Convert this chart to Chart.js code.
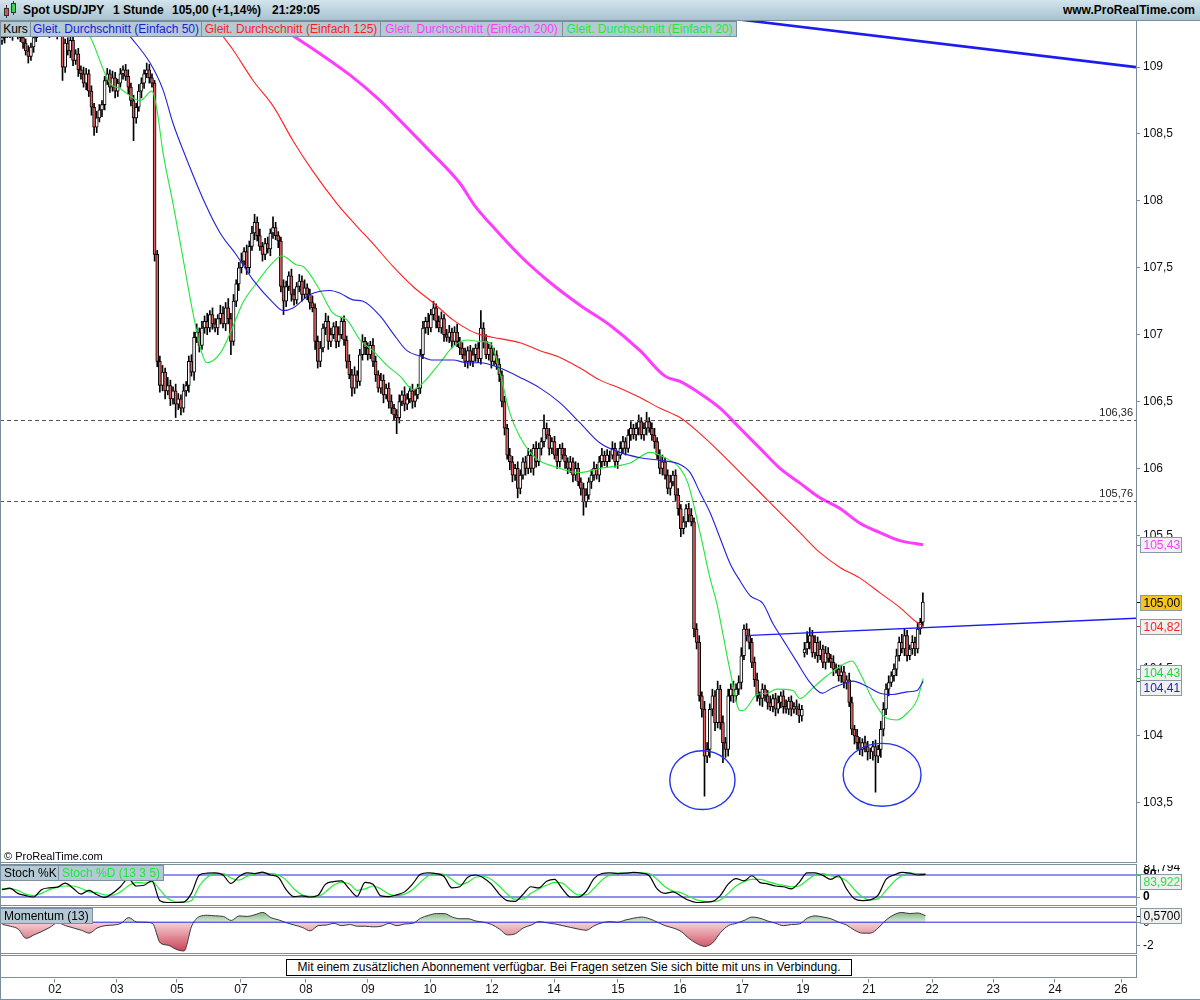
<!DOCTYPE html>
<html lang="de">
<head>
<meta charset="utf-8">
<title>Spot USD/JPY 1 Stunde</title>
<script src="https://cdn.jsdelivr.net/npm/chart.js@4.4.1/dist/chart.umd.min.js"></script>
<style>
  html, body { margin: 0; padding: 0; background: #fff; }
  body { width: 1200px; height: 1000px; position: relative; overflow: hidden;
         font-family: "Liberation Sans", Arial, sans-serif; font-size: 12px; color: #000; }
  #header { position: absolute; left: 0; top: 0; width: 1200px; height: 21px; box-sizing: border-box;
            background: linear-gradient(#d3e4ec, #a8c3cf); border-bottom: 1px solid #7a8f9b; z-index: 6; }
  #header span { position: absolute; top: 3px; font-weight: bold; font-size: 12px; white-space: nowrap; }
  .legend { position: absolute; left: 0; top: 21px; display: flex; z-index: 6; }
  .legend div { height: 16px; box-sizing: border-box; background: #b3c9d4; border: 1px solid #7a8f9b;
                border-left: none; font-size: 12px; line-height: 14px; text-align: center; white-space: nowrap; }
  .legend div:first-child { border-left: 1px solid #7a8f9b; }
  .wrap { position: absolute; left: 0; width: 1200px; }
  .frame { position: absolute; box-sizing: border-box; border: 1px solid #7a8f9b; pointer-events: none; z-index: 4; }
  .tag { position: absolute; z-index: 6; height: 16px; box-sizing: border-box; background: #b3c9d4;
         border: 1px solid #7a8f9b; font-size: 12px; line-height: 14px; padding: 0 3px; white-space: nowrap; }
  #notice { position: absolute; left: 286px; top: 959px; width: 566px; height: 17px; box-sizing: border-box;
            border: 1px solid #000; text-align: center; font-size: 12px; line-height: 15px; z-index: 6; background: #fff; }
  .ico { position: absolute; box-sizing: border-box; border: 1px solid #333; }
</style>
</head>
<body>
<div id="header">
  <div class="ico" style="left:6px;top:5px;width:1px;height:13px;border:none;background:#333"></div>
  <div class="ico" style="left:4px;top:8px;width:5px;height:8px;background:#e0504c"></div>
  <div class="ico" style="left:13px;top:1px;width:1px;height:14px;border:none;background:#333"></div>
  <div class="ico" style="left:11px;top:3px;width:5px;height:10px;background:#3fd24a"></div>
  <span style="left:23px">Spot USD/JPY</span>
  <span style="left:113px">1 Stunde</span>
  <span style="left:172px">105,00 (+1,14%)</span>
  <span style="left:272px">21:29:05</span>
  <span style="right:5px">www.ProRealTime.com</span>
</div>
<div class="legend">
  <div style="color:#000;width:31px">Kurs</div>
  <div style="color:#1c1cd8;width:171px">Gleit. Durchschnitt (Einfach 50)</div>
  <div style="color:#ff1e1e;width:179px">Gleit. Durchschnitt (Einfach 125)</div>
  <div style="color:#ff3cff;width:182px">Gleit. Durchschnitt (Einfach 200)</div>
  <div style="color:#1ee83c;width:174px">Gleit. Durchschnitt (Einfach 20)</div>
</div>

<div class="wrap" style="top:20px;height:842px"><canvas id="mainChart"></canvas></div>
<div class="frame" style="left:0;top:20px;width:1137px;height:843px"></div>
<div style="position:absolute;left:4px;top:850px;font-size:11px;z-index:6">© ProRealTime.com</div>

<div class="wrap" style="top:865px;height:40px"><canvas id="stochChart"></canvas></div>
<div class="frame" style="left:0;top:864px;width:1137px;height:42px"></div>
<div class="tag" style="left:0;top:865px">Stoch %K</div>
<div class="tag" style="left:58px;top:865px;color:#1ee83c">Stoch %D (13 3 5)</div>

<div class="wrap" style="top:908px;height:45px"><canvas id="momChart"></canvas></div>
<div class="frame" style="left:0;top:907px;width:1137px;height:47px"></div>
<div class="tag" style="left:0;top:908px">Momentum (13)</div>

<div class="frame" style="left:0;top:955px;width:1137px;height:23px"></div>
<div id="notice">Mit einem zusätzlichen Abonnement verfügbar. Bei Fragen setzen Sie sich bitte mit uns in Verbindung.</div>

<div class="wrap" style="top:960px;height:40px"><canvas id="axisChart"></canvas></div>
<div class="frame" style="left:0;top:0;width:1200px;height:1000px;border-top:none;border-right:none"></div>

<script>
// ---------- data ----------
// hourly closes (USD/JPY), one per candle
const closes = [
  109.22, 109.25, 109.28, 109.24, 109.27, 109.30, 109.26, 109.22, 109.18, 109.12,
  109.08, 109.15, 109.22, 109.26, 109.30, 109.28, 109.32, 109.29, 109.26, 109.30,
  109.28, 109.25, 109.30, 109.00, 109.18, 109.12, 109.20, 109.05, 109.10, 108.98,
  108.95, 108.88, 108.95, 108.82, 108.70, 108.55, 108.62, 108.68, 108.72, 108.90,
  108.95, 108.85, 108.92, 108.82, 108.88, 108.95, 108.98, 108.93, 108.85, 108.75,
  108.62, 108.70, 108.82, 108.88, 108.95, 108.98, 108.92, 108.88, 107.60, 106.80,
  106.62, 106.72, 106.58, 106.62, 106.52, 106.58, 106.48, 106.52, 106.45, 106.58,
  106.62, 106.80, 106.72, 106.98, 107.02, 106.92, 107.05, 107.10, 107.05, 107.15,
  107.08, 107.05, 107.12, 107.16, 107.08, 107.20, 107.12, 106.95, 107.25, 107.38,
  107.50, 107.55, 107.62, 107.50, 107.66, 107.76, 107.84, 107.74, 107.66, 107.60,
  107.68, 107.64, 107.76, 107.80, 107.74, 107.70, 107.36, 107.25, 107.36, 107.44,
  107.30, 107.26, 107.36, 107.40, 107.30, 107.35, 107.30, 107.24, 107.20, 106.95,
  106.80, 106.90, 107.05, 107.10, 106.95, 107.00, 107.06, 106.95, 107.00, 107.10,
  106.96, 106.80, 106.70, 106.60, 106.70, 106.65, 106.85, 106.95, 106.90, 106.85,
  106.92, 106.80, 106.70, 106.60, 106.66, 106.55, 106.60, 106.50, 106.45, 106.40,
  106.38, 106.50, 106.55, 106.48, 106.52, 106.58, 106.50, 106.55, 106.60, 106.85,
  107.05, 107.10, 107.05, 107.15, 107.20, 107.10, 107.05, 107.12, 107.00, 106.98,
  107.02, 106.95, 107.02, 106.95, 106.90, 106.85, 106.80, 106.88, 106.80, 106.85,
  106.90, 106.82, 107.05, 106.95, 106.85, 106.90, 106.80, 106.85, 106.78, 106.70,
  106.50, 106.30, 106.10, 106.05, 105.95, 106.00, 105.85, 105.95, 106.05, 106.00,
  106.10, 106.00, 106.15, 106.05, 106.15, 106.20, 106.30, 106.25, 106.15, 106.20,
  106.10, 106.05, 106.15, 106.10, 106.05, 106.00, 106.05, 105.95, 106.00, 105.90,
  105.85, 105.75, 105.80, 105.90, 105.95, 106.00, 105.95, 106.05, 106.10, 106.05,
  106.10, 106.10, 106.15, 106.05, 106.10, 106.15, 106.20, 106.15, 106.25, 106.30,
  106.25, 106.30, 106.35, 106.25, 106.30, 106.35, 106.30, 106.25, 106.20, 106.10,
  106.00, 106.05, 105.95, 105.85, 105.90, 105.95, 105.80, 105.70, 105.55, 105.60,
  105.70, 105.65, 105.60, 104.80, 104.70, 104.30, 104.20, 103.85, 103.90, 104.20,
  104.30, 104.10, 104.35, 104.10, 103.95, 103.90, 104.30, 104.35, 104.30, 104.35,
  104.40, 104.60, 104.80, 104.75, 104.70, 104.55, 104.42, 104.30, 104.28, 104.35,
  104.30, 104.25, 104.22, 104.28, 104.20, 104.25, 104.30, 104.22, 104.20, 104.26,
  104.20, 104.22, 104.20, 104.15, 104.20, 104.65, 104.70, 104.75, 104.62, 104.70,
  104.60, 104.65, 104.55, 104.62, 104.58, 104.55, 104.50, 104.50, 104.45, 104.48,
  104.40, 104.42, 104.25, 104.05, 104.00, 103.95, 103.90, 103.95, 103.92, 103.88,
  103.88, 103.92, 103.85, 103.90, 104.05, 104.20, 104.35, 104.40, 104.45, 104.50,
  104.60, 104.70, 104.65, 104.75, 104.60, 104.65, 104.70, 104.65, 104.80, 104.85,
  105.00
];
const firstOpen = 109.20;
const gapOpens = { 305: 104.62 };   // weekend gap open
// wick lengths above / below the body, in 1/100 yen
const wickUp = [
  3,4,2,5,3,2,4,3,5,3, 4,3,2,4,3,2,3,4,2,3, 3,2,4,5,3,4,3,5,3,4, 3,5,4,3,4,3,5,4,3,3,
  4,3,5,4,3,4,3,4,5,3, 4,3,5,4,3,5,4,3,2,3, 4,5,3,6,4,3,5,4,3,5, 3,4,5,4,6,3,5,4,6,3,
  5,4,3,6,5,4,7,4,5,3, 4,6,3,5,4,5,6,4,5,3, 4,5,3,8,4,3,3,5,4,3, 5,4,3,5,4,6,3,4,5,3,
  4,5,3,6,4,5,3,4,6,3, 4,3,5,4,6,3,4,5,3,4, 3,5,4,3,5,4,3,4,5,3, 4,5,3,6,4,3,5,4,3,4,
  5,3,6,4,5,3,4,5,3,4, 5,3,4,6,3,4,5,3,4,5, 3,4,13,4,5,3,4,5,3,4, 3,4,3,5,4,3,5,4,3,4,
  5,4,3,5,4,3,10,4,5,3, 4,5,3,4,5,3,4,3,5,4, 3,4,5,3,4,5,3,4,5,3, 4,3,5,4,3,5,4,3,4,5,
  3,4,5,3,4,7,3,4,5,3, 4,5,3,4,5,3,4,5,3,4, 3,4,5,3,4,5,3,6,5,4, 5,4,6,3,5,4,5,4,6,4,
  5,6,3,4,5,3,4,5,3,4, 3,4,5,3,4,5,3,4,5,3, 4,3,5,4,3,5,8,6,4,5, 4,6,3,5,4,3,5,4,3,5,
  4,3,5,4,3,5,4,3,5,4, 3,4,5,3,6,5,4,5,3,4, 5,4,6,5,4,3,5,4,5,3, 7
];
const wickDn = [
  3,4,3,2,4,3,5,3,4,3, 5,3,4,3,2,4,3,2,4,3, 3,4,2,10,4,3,5,4,3,5, 4,3,5,4,6,6,4,3,5,4,
  3,4,3,5,4,3,4,3,5,4, 17,4,3,5,4,3,4,3,5,4, 5,4,6,3,5,4,10,4,5,3, 4,5,3,6,4,5,3,4,5,3,
  4,3,5,4,3,5,4,10,3,4, 5,4,3,5,4,3,5,4,3,5, 4,3,5,4,3,5,4,10,4,3, 5,4,3,4,5,3,4,5,3,6,
  5,4,3,5,6,4,3,5,4,3, 4,5,3,6,4,5,3,4,5,4, 3,4,5,3,4,6,3,5,4,4, 12,4,3,5,4,3,5,4,3,4,
  3,4,5,3,4,5,3,4,5,3, 4,5,3,4,5,3,4,5,3,4, 5,3,4,5,3,4,5,3,4,5, 4,5,3,6,5,4,7,4,3,5,
  4,3,5,4,3,5,4,3,5,4, 3,5,4,3,5,4,3,5,4,3, 5,10,4,3,5,4,3,5,4,3, 4,5,3,4,5,3,4,5,3,4,
  3,4,5,3,4,5,3,4,5,3, 4,5,3,4,5,3,4,5,6,4, 4,5,3,6,5,4,6,30,5,6, 5,6,4,5,15,6,5,4,5,4,
  4,5,3,4,5,4,5,4,5,6, 4,5,3,4,5,3,4,5,3,4, 5,3,4,5,4,3,4,5,3,4, 5,3,4,5,3,4,5,3,4,5,
  4,5,3,4,6,5,4,5,4,6, 5,6,27,5,6,5,4,5,3,4, 5,4,3,5,4,3,4,5,3,4, 3
];

// moving averages: hour position / price
const ma20X = [29.6, 33.4, 41.0, 44.8, 52.5, 57.0, 58.9, 61.2, 65.0, 68.8, 72.6, 76.0, 77.9, 82.9, 86.7, 91.6, 96.9, 103.0, 106.4, 112.1, 114.4, 120.9, 125.8, 131.1, 136.1, 141.0, 146.3, 151.3, 156.2, 160.0, 166.5, 171.4, 176.7, 181.7, 185.5, 189.3, 193.1, 200.7, 212.1, 219.7, 227.3, 238.7, 246.3, 252.0, 257.7, 260.7, 265.3, 269.1, 271.7, 276.7, 280.5, 281.6, 287.0, 290.8, 294.6, 300.6, 303.3, 308.2, 313.6, 318.5, 323.1, 326.1, 331.0, 336.4, 340.2, 344.0, 347.8, 350.1];
const ma20Y = [109.33, 109.23, 108.88, 108.84, 108.75, 108.82, 108.68, 108.36, 107.98, 107.57, 107.16, 106.86, 106.79, 106.86, 107.01, 107.24, 107.39, 107.54, 107.59, 107.52, 107.51, 107.33, 107.16, 107.11, 106.96, 106.88, 106.77, 106.69, 106.59, 106.64, 106.79, 106.91, 106.96, 106.95, 106.94, 106.71, 106.41, 106.12, 106.00, 105.97, 106.00, 106.04, 106.12, 106.08, 106.00, 105.89, 105.52, 105.18, 104.99, 104.49, 104.19, 104.19, 104.31, 104.32, 104.35, 104.34, 104.28, 104.36, 104.45, 104.52, 104.56, 104.47, 104.27, 104.13, 104.12, 104.17, 104.27, 104.43];
const ma50X = [44.8, 48.7, 56.3, 61.2, 65.0, 68.8, 77.2, 82.9, 89.3, 95.4, 103.0, 106.8, 110.6, 117.1, 124.7, 128.5, 133.4, 137.2, 143.7, 148.6, 153.9, 158.9, 163.8, 171.4, 176.7, 181.7, 189.3, 196.9, 204.5, 212.1, 219.7, 227.3, 234.9, 242.5, 250.1, 257.7, 261.5, 265.3, 269.1, 272.9, 276.7, 280.5, 284.3, 289.2, 293.0, 296.8, 302.2, 307.1, 311.7, 315.8, 321.2, 323.4, 328.8, 333.7, 338.6, 344.0, 347.8, 350.1];
const ma50Y = [109.33, 109.23, 109.03, 108.83, 108.58, 108.38, 107.98, 107.76, 107.59, 107.41, 107.24, 107.18, 107.20, 107.30, 107.33, 107.31, 107.26, 107.25, 107.14, 107.01, 106.88, 106.84, 106.81, 106.81, 106.79, 106.79, 106.75, 106.68, 106.60, 106.49, 106.34, 106.19, 106.12, 106.08, 106.06, 106.03, 105.97, 105.82, 105.67, 105.48, 105.29, 105.16, 105.05, 104.99, 104.84, 104.72, 104.55, 104.40, 104.32, 104.36, 104.40, 104.41, 104.37, 104.32, 104.31, 104.33, 104.34, 104.41];
const ma125X = [81.0, 84.0, 87.8, 95.4, 103.0, 110.6, 118.2, 127.3, 134.9, 141.0, 148.6, 156.2, 163.8, 171.4, 177.9, 181.7, 189.3, 196.9, 204.5, 212.1, 219.7, 227.3, 234.9, 242.5, 250.1, 257.7, 265.3, 272.9, 280.5, 288.1, 295.7, 303.3, 310.9, 318.5, 326.1, 333.7, 341.3, 347.0, 350.1];
const ma125Y = [109.33, 109.23, 109.13, 108.90, 108.71, 108.45, 108.22, 107.98, 107.81, 107.68, 107.51, 107.36, 107.24, 107.11, 107.03, 107.00, 106.97, 106.94, 106.88, 106.83, 106.75, 106.66, 106.60, 106.53, 106.45, 106.38, 106.26, 106.12, 105.97, 105.82, 105.67, 105.52, 105.37, 105.26, 105.18, 105.07, 104.96, 104.86, 104.82];
const ma200X = [103.8, 109.5, 120.9, 132.3, 143.7, 151.3, 162.7, 174.1, 179.8, 185.5, 196.9, 208.3, 219.7, 231.1, 242.5, 252.0, 257.7, 265.3, 272.9, 280.5, 288.1, 295.7, 303.3, 310.9, 318.5, 326.1, 333.7, 341.3, 350.1];
const ma200Y = [109.33, 109.25, 109.10, 108.94, 108.75, 108.60, 108.37, 108.13, 107.96, 107.83, 107.59, 107.39, 107.22, 107.07, 106.88, 106.69, 106.65, 106.56, 106.45, 106.30, 106.15, 106.00, 105.89, 105.78, 105.70, 105.59, 105.52, 105.46, 105.43];

// drawn trend lines and marker ellipses (hour / price)
const trendAX = [270, 431], trendAY = [109.38, 109.00];
const trendBX = [282.4, 431], trendBY = [104.75, 104.88];
const ellipseX = [266.2, 334.5], ellipseY = [103.67, 103.71];
const ellipseRX = [12.4, 14.8], ellipseRY = [0.22, 0.235];
const levels = [106.36, 105.76];

// oscillators, one sample every oscStep hours
const oscStep = 3;
const stochK = [40,44,30,24,20,40,45,47,58,44, 28,38,27,19,30,48,70,50,52,64, 10,5,5,6,30,80,85,86,80,57,
  75,86,84,88,80,74,40,21,23,20, 24,55,62,64,42,22,60,55,23,21, 26,34,55,82,86,84,76,45,48,74,
  80,72,55,28,10,8,27,48,45,63, 68,42,20,20,35,70,84,86,84,85, 87,85,78,42,30,34,23,11,5,6,
  8,24,55,70,64,78,60,56,50,48, 42,60,86,86,79,68,78,42,15,10, 12,25,68,80,87,85,80,81.794];
const stochD = [42,42,38,28,24,30,40,46,50,50, 44,34,32,26,25,34,50,60,58,62, 40,16,7,6,10,50,74,84,84,72,
  66,76,84,85,84,80,66,42,26,22, 22,34,52,60,56,38,42,50,42,28, 24,28,40,60,78,84,82,68,54,60,
  74,76,68,50,28,14,14,30,42,52, 60,58,40,26,26,44,66,80,85,85, 85,86,84,68,48,36,32,22,12,8,
  7,12,30,50,62,68,68,62,56,52, 48,50,66,80,84,78,74,64,40,20, 12,15,38,62,78,85,84,83.922];
const stochLevels = [80, 20];
const momentum = [-0.2,-0.35,-0.6,-1.4,-1.1,-0.8,-0.45,-0.05,-0.3,-0.5, -0.7,-0.95,-0.5,-0.3,-0.25,-0.1,0.4,0.02,0,-0.1,
  -1.8,-2.0,-2.35,-2.5,-0.3,0.5,0.6,0.55,0.5,0.15, 0.55,0.5,0.65,0.85,0.4,0.2,-0.05,-0.25,-0.45,-0.75,
  -0.3,-0.25,-0.1,-0.3,-0.2,-0.35,-0.35,-0.4,-0.35,-0.1, -0.3,-0.15,-0.1,0.35,0.6,0.75,0.75,0.45,0.3,0.3,
  0.1,0,-0.2,-0.6,-1.1,-1.0,-0.5,-0.25,0.05,-0.05, -0.15,-0.3,-0.45,-0.6,-0.7,-0.3,-0.05,0.05,0,0.2,
  0.35,0.45,0.3,0,-0.3,-0.5,-0.8,-1.4,-1.85,-2.1, -1.8,-0.9,-0.3,-0.1,0.15,0.45,0.35,0.1,-0.1,-0.3,
  -0.2,-0.15,0.35,0.55,0.45,0.3,0,-0.25,-0.7,-0.95, -0.95,-0.5,0.2,0.65,0.85,0.75,0.8,0.57];

// axes
const xMin = -0.76, xMax = 431.0;
const priceMin = 103.058, priceMax = 109.352;
const dayTickX = [20.1, 43.7, 66.5, 90.8, 115.5, 139.1, 162.7, 186.2, 209.8, 234.1, 257.7, 281.3, 304.4, 329.5, 353.5, 376.7, 400.2, 425.3];
const dayLabels = ['02','03','05','07','08','09','10','12','14','15','16','17','19','21','22','23','24','26'];
const priceTicks = [103.5, 104, 104.5, 105, 105.5, 106, 106.5, 107, 107.5, 108, 108.5, 109];
const momTicks = [0, -1, -2], momTickLabels = ['0', '', '-2'];
const stochTickLabels = ['80', '0'];

// ---------- helpers ----------
Chart.defaults.font.family = '"Liberation Sans", Arial, sans-serif';
Chart.defaults.font.size = 12;
Chart.defaults.color = '#000';
const AXIS = '#7a8f9b';
const fmt = (v, d) => v.toFixed(d).replace('.', ',');
const pts = (xs, ys) => xs.map((x, i) => ({ x, y: ys[i] }));
const oscPts = arr => arr.map((v, k) => ({ x: k * oscStep, y: v }));
const flat = v => [{ x: xMin, y: v }, { x: xMax, y: v }];

function rightAxis(extra) {
  return Object.assign({
    position: 'right',
    grid: { drawOnChartArea: false, drawTicks: true, tickLength: 4, color: AXIS },
    border: { display: true, color: AXIS },
    ticks: { padding: 3, color: '#111' },
    afterFit(s) { s.width = 64; s.paddingTop = 0; s.paddingBottom = 0; s.paddingLeft = 0; s.paddingRight = 0; }
  }, extra);
}
const hiddenX = { type: 'linear', min: xMin, max: xMax, display: false, offset: false, grid: { offset: false } };

// value tags on the right axis
const valueTags = {
  id: 'valueTags',
  afterDraw(chart, args, opts) {
    const items = opts.items || [];
    if (!items.length) return;
    const ys = chart.scales.y, ctx = chart.ctx, h = 15, right = chart.chartArea.right;
    const pos = items.map(it => ({ it, y0: ys.getPixelForValue(it.value), y: ys.getPixelForValue(it.value) }));
    for (let pass = 0; pass < 4; pass++) {
      for (let i = 1; i < pos.length; i++) {
        const gap = pos[i].y - pos[i - 1].y;
        if (gap < h) { const d = (h - gap) / 2; pos[i - 1].y -= d; pos[i].y += d; }
      }
    }
    ctx.save();
    ctx.font = '12px "Liberation Sans", Arial, sans-serif';
    ctx.textBaseline = 'middle';
    pos.forEach(p => {
      const it = p.it;
      ctx.strokeStyle = it.color; ctx.lineWidth = 1;
      ctx.beginPath(); ctx.moveTo(right, Math.round(p.y0) + 0.5); ctx.lineTo(right + 4, Math.round(p.y0) + 0.5); ctx.stroke();
      const bx = right + 4.5, by = Math.round(p.y - h / 2) + 0.5;
      if (it.bg) {
        ctx.fillStyle = it.bg; ctx.fillRect(bx, by, 41, h);
        ctx.strokeStyle = '#8a9aa4'; ctx.strokeRect(bx, by, 41, h);
      }
      ctx.fillStyle = it.color;
      ctx.fillText(it.text, bx + 3, by + h / 2 + 0.5);
    });
    ctx.restore();
  }
};
Chart.register(valueTags);

// dashed levels and ellipse markers on the price panel
const priceMarks = {
  id: 'priceMarks',
  afterDatasetsDraw(chart) {
    if (chart.canvas.id !== 'mainChart') return;
    const { ctx, chartArea: a, scales: { x, y } } = chart;
    ctx.save();
    ctx.strokeStyle = '#555'; ctx.lineWidth = 1; ctx.setLineDash([4, 3]);
    ctx.font = '11px "Liberation Sans", Arial, sans-serif';
    ctx.fillStyle = '#222'; ctx.textAlign = 'right'; ctx.textBaseline = 'bottom';
    levels.forEach(v => {
      const py = Math.round(y.getPixelForValue(v)) + 0.5;
      ctx.beginPath(); ctx.moveTo(a.left, py); ctx.lineTo(a.right, py); ctx.stroke();
      ctx.fillText(fmt(v, 2), a.right - 3, py - 2);
    });
    ctx.setLineDash([]);
    ctx.strokeStyle = '#2233ee'; ctx.lineWidth = 1.4;
    ellipseX.forEach((h, i) => {
      const cx = x.getPixelForValue(h), cy = y.getPixelForValue(ellipseY[i]);
      const rx = x.getPixelForValue(h + ellipseRX[i]) - cx;
      const ry = y.getPixelForValue(ellipseY[i] - ellipseRY[i]) - cy;
      ctx.beginPath(); ctx.ellipse(cx, cy, rx, ry, 0, 0, Math.PI * 2); ctx.stroke();
    });
    ctx.restore();
  }
};
Chart.register(priceMarks);

// ---------- candles ----------
const opens = closes.map((c, i) => gapOpens[i] !== undefined ? gapOpens[i] : (i === 0 ? firstOpen : closes[i - 1]));
const highs = closes.map((c, i) => Math.max(opens[i], c) + wickUp[i] / 100);
const lows = closes.map((c, i) => Math.min(opens[i], c) - wickDn[i] / 100);
const wicks = closes.map((c, i) => ({ x: i, y: [lows[i], highs[i]] }));
const bodies = closes.map((c, i) => ({ x: i, y: [opens[i], c] }));
const bodyColors = closes.map((c, i) => c < opens[i] ? '#e35d5d' : '#ffffff');

const last = a => a[a.length - 1];
const lineDs = (label, data, color, width, order) => ({
  type: 'line', label, data, borderColor: color, borderWidth: width, pointRadius: 0,
  cubicInterpolationMode: 'monotone', fill: false, order
});

new Chart(document.getElementById('mainChart'), {
  type: 'bar',
  data: {
    datasets: [
      lineDs('Trend oben', pts(trendAX, trendAY), '#1c1cf0', 2.6, 0),
      lineDs('Nackenlinie', pts(trendBX, trendBY), '#1c1cf0', 1.3, 0),
      lineDs('Einfach 200', pts(ma200X, ma200Y), '#ff3cff', 3, 1),
      lineDs('Einfach 125', pts(ma125X, ma125Y), '#ff2020', 1.1, 1),
      lineDs('Einfach 50', pts(ma50X, ma50Y), '#2020dd', 1.1, 1),
      lineDs('Einfach 20', pts(ma20X, ma20Y), '#22e63a', 1.1, 1),
      { type: 'bar', label: 'Körper', data: bodies, backgroundColor: bodyColors, borderColor: '#000',
        borderWidth: 1, borderSkipped: false, barThickness: 3, grouped: false, order: 5 },
      { type: 'bar', label: 'Docht', data: wicks, backgroundColor: '#000', borderWidth: 0,
        barThickness: 1, grouped: false, order: 6 }
    ]
  },
  options: {
    responsive: true, maintainAspectRatio: false, animation: false, devicePixelRatio: 1,
    layout: { padding: 0 },
    plugins: {
      legend: { display: false }, tooltip: { enabled: false },
      valueTags: { items: [
        { value: last(ma200Y), text: fmt(last(ma200Y), 2), color: '#ff3cff', bg: '#f0f0f0' },
        { value: last(closes), text: fmt(last(closes), 2), color: '#000', bg: '#f6c21c' },
        { value: last(ma125Y), text: fmt(last(ma125Y), 2), color: '#ff2020', bg: '#f0f0f0' },
        { value: last(ma20Y), text: fmt(last(ma20Y), 2), color: '#1ed83a', bg: '#f0f0f0' },
        { value: last(ma50Y), text: fmt(last(ma50Y), 2), color: '#2020cc', bg: '#f0f0f0' }
      ] }
    },
    scales: {
      x: hiddenX,
      y: rightAxis({
        min: priceMin, max: priceMax,
        afterBuildTicks(s) { s.ticks = priceTicks.map(v => ({ value: v })); },
        ticks: { padding: 3, color: '#111', callback: v => Number.isInteger(v) ? String(v) : fmt(v, 1) }
      })
    }
  }
});

new Chart(document.getElementById('stochChart'), {
  type: 'line',
  data: {
    datasets: [
      lineDs('80', flat(stochLevels[0]), '#2222dd', 1, 3),
      lineDs('20', flat(stochLevels[1]), '#2222dd', 1, 3),
      lineDs('Stoch %D', oscPts(stochD), '#22ee33', 1.2, 2),
      lineDs('Stoch %K', oscPts(stochK), '#000', 1.2, 1)
    ]
  },
  options: {
    responsive: true, maintainAspectRatio: false, animation: false, devicePixelRatio: 1,
    layout: { padding: 0 },
    plugins: {
      legend: { display: false }, tooltip: { enabled: false },
      valueTags: { items: [
        { value: last(stochK), text: fmt(last(stochK), 3), color: '#000', bg: null },
        { value: last(stochD), text: fmt(last(stochD), 3), color: '#1ee83c', bg: '#f0f0f0' }
      ] }
    },
    scales: {
      x: hiddenX,
      y: rightAxis({
        min: -1.8, max: 107.3,
        afterBuildTicks(s) { s.ticks = stochLevels.map(v => ({ value: v })); },
        ticks: { padding: 3, color: '#000', font: { weight: 'bold' }, callback: (v, i) => stochTickLabels[i] }
      })
    }
  }
});

const momChart = new Chart(document.getElementById('momChart'), {
  type: 'line',
  data: {
    datasets: [
      lineDs('Null', flat(0), '#2222dd', 1, 0),
      Object.assign(lineDs('Momentum (13)', oscPts(momentum), '#3a3a3a', 1, 1),
        { fill: { target: { value: 0 }, above: '#a6cfa6', below: '#e9a0aa' } })
    ]
  },
  options: {
    responsive: true, maintainAspectRatio: false, animation: false, devicePixelRatio: 1,
    layout: { padding: 0 },
    plugins: {
      legend: { display: false }, tooltip: { enabled: false },
      valueTags: { items: [{ value: last(momentum), text: fmt(last(momentum), 4), color: '#000', bg: '#f0f0f0' }] }
    },
    scales: {
      x: hiddenX,
      y: rightAxis({
        min: -2.63, max: 1.19,
        afterBuildTicks(s) { s.ticks = momTicks.map(v => ({ value: v })); },
        ticks: { padding: 3, color: '#000', callback: (v, i) => momTickLabels[i] }
      })
    }
  }
});
// gradient fills for momentum
(function () {
  const { ctx, chartArea: a, scales: { y } } = momChart;
  const z = y.getPixelForValue(0);
  const red = ctx.createLinearGradient(0, z, 0, a.bottom);
  red.addColorStop(0, '#f6d3d7'); red.addColorStop(1, '#c8394f');
  const green = ctx.createLinearGradient(0, a.top, 0, z);
  green.addColorStop(0, '#5f9e5f'); green.addColorStop(1, '#d6ead6');
  momChart.data.datasets[1].fill = { target: { value: 0 }, above: green, below: red };
  momChart.update('none');
})();

new Chart(document.getElementById('axisChart'), {
  type: 'line',
  data: { datasets: [] },
  options: {
    responsive: true, maintainAspectRatio: false, animation: false, devicePixelRatio: 1,
    layout: { padding: { left: 0, right: 64, top: 0, bottom: 3 } },
    plugins: { legend: { display: false }, tooltip: { enabled: false } },
    scales: {
      x: {
        type: 'linear', min: xMin, max: xMax, position: 'bottom',
        grid: { drawOnChartArea: false, drawTicks: true, tickLength: 4, color: AXIS },
        border: { display: false },
        afterBuildTicks(s) { s.ticks = dayTickX.map(v => ({ value: v })); },
        afterFit(s) { s.paddingLeft = 0; s.paddingRight = 0; },
        ticks: { padding: 0, maxRotation: 0, autoSkip: false, color: '#111', callback: (v, i) => dayLabels[i] }
      },
      y: { display: false }
    }
  }
});
</script>
</body>
</html>
